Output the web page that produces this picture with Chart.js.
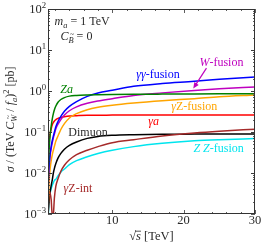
<!DOCTYPE html>
<html>
<head>
<meta charset="utf-8">
<script src="https://cdn.jsdelivr.net/npm/chart.js@4/dist/chart.umd.min.js"></script>
<style>
  html, body { margin: 0; padding: 0; background: #fff; }
  canvas { display: block; }
</style>
</head>
<body>
<canvas id="grafico" width="266" height="247"></canvas>
<script>
// sqrt(s) in TeV, shared by all curves
const sqrtS = [1.0, 1.05, 1.1, 1.2, 1.3, 1.45, 1.6, 1.75, 1.9, 2.1, 2.4, 2.8, 3.3, 4, 5, 6.5, 8, 10, 13, 17, 21.5, 25, 30];

// cross sections [pb]
const gammaGammaFusion = [0.004, 0.008, 0.012, 0.02, 0.03, 0.045, 0.062, 0.08, 0.1, 0.135, 0.18, 0.24, 0.32, 0.42, 0.55, 0.74, 0.89, 1.04, 1.3, 1.52, 1.72, 1.93, 2.2];
const wFusion = [0.002, 0.005, 0.009, 0.018, 0.027, 0.04, 0.055, 0.072, 0.09, 0.12, 0.155, 0.2, 0.26, 0.33, 0.41, 0.5, 0.57, 0.65, 0.78, 0.9, 1.03, 1.13, 1.25];
const zA = [0.0008, 0.012, 0.025, 0.05, 0.085, 0.14, 0.21, 0.28, 0.35, 0.43, 0.53, 0.62, 0.69, 0.75, 0.78, 0.8, 0.81, 0.82, 0.83, 0.84, 0.85, 0.855, 0.86];
const gammaZFusion = [0.0008, 0.002, 0.004, 0.008, 0.013, 0.02, 0.028, 0.036, 0.045, 0.06, 0.08, 0.115, 0.16, 0.22, 0.28, 0.35, 0.4, 0.45, 0.51, 0.58, 0.65, 0.72, 0.8];
const gammaA = [0.002, 0.03, 0.05, 0.07, 0.09, 0.12, 0.15, 0.17, 0.185, 0.2, 0.215, 0.225, 0.235, 0.245, 0.25, 0.255, 0.255, 0.258, 0.26, 0.26, 0.26, 0.26, 0.26];
const dimuon = [0.0009, 0.0012, 0.0016, 0.0025, 0.0035, 0.005, 0.0068, 0.01, 0.013, 0.017, 0.023, 0.03, 0.038, 0.047, 0.057, 0.07, 0.078, 0.083, 0.086, 0.088, 0.089, 0.09, 0.09];
const gammaZInt = [0.0006, 0.0015, 0.0025, 0.0035, 0.0032, 0.0022, 0.0009, 0.001, 0.0025, 0.0048, 0.0072, 0.011, 0.0155, 0.021, 0.028, 0.036, 0.044, 0.055, 0.065, 0.08, 0.095, 0.105, 0.117];
const zzFusion = [0.0004, 0.001, 0.0017, 0.0026, 0.0033, 0.0042, 0.005, 0.0058, 0.0066, 0.007, 0.0085, 0.0105, 0.0125, 0.016, 0.02, 0.025, 0.03, 0.036, 0.044, 0.053, 0.061, 0.065, 0.069];

const xTicks = [10, 20, 30];
const yTicks = [1e-3, 1e-2, 1e-1, 1, 10, 100];
const yTickExp = ["\u22123", "\u22122", "\u22121", "0", "1", "2"];

const FONT = '"Liberation Serif", "DejaVu Serif", serif';
const TXT = "#2a2a2a";

const series = [
  { data: zA, color: "#008000" },
  { data: gammaGammaFusion, color: "#0000ff" },
  { data: wFusion, color: "#bf00bf" },
  { data: gammaZFusion, color: "#ffa500" },
  { data: gammaA, color: "#ff0000" },
  { data: gammaZInt, color: "#a52a2a" },
  { data: dimuon, color: "#000000" },
  { data: zzFusion, color: "#00e5ee" },
];

// curve labels, placed in data coordinates
const etiquetas = [
  { x: 3.6, y: 1.07, color: "#008000", parts: [{ t: "Z", it: 1 }, { t: "a", it: 1 }] },
  { x: 16.4, y: 2.5, color: "#0000ff", parts: [{ t: "\u03b3\u03b3", it: 1 }, { t: "-fusion" }] },
  { x: 25.3, y: 4.9, color: "#bf00bf", parts: [{ t: "W", it: 1 }, { t: "-fusion" }] },
  { x: 21.5, y: 0.41, color: "#ffa500", parts: [{ t: "\u03b3", it: 1 }, { t: "Z-fusion" }] },
  { x: 15.8, y: 0.175, color: "#ff0000", parts: [{ t: "\u03b3a", it: 1 }] },
  { x: 6.6, y: 0.094, color: "#2a2a2a", parts: [{ t: "Dimuon" }] },
  { x: 24.9, y: 0.038, color: "#00e5ee", parts: [{ t: "Z Z", it: 1 }, { t: "-fusion" }] },
  { x: 5.2, y: 0.0041, color: "#a52a2a", parts: [{ t: "\u03b3", it: 1 }, { t: "Z-int" }] },
];

function richText(ctx, parts, x, y, size, color, align) {
  const items = parts.map(p => {
    const fs = (p.sub || p.sup) ? size * 0.7 : size;
    const font = (p.it ? "italic " : "") + fs + "px " + FONT;
    ctx.font = font;
    return { ...p, fs, font, w: ctx.measureText(p.t).width };
  });
  const total = items.reduce((s, it) => s + it.w, 0);
  let cx = align === "center" ? x - total / 2 : align === "right" ? x - total : x;
  ctx.fillStyle = color;
  ctx.textBaseline = "middle";
  ctx.textAlign = "left";
  for (const it of items) {
    const dy = it.sub ? size * 0.3 : it.sup ? -size * 0.38 : 0;
    ctx.font = it.font;
    ctx.fillText(it.t, cx, y + dy);
    if (it.tilde) {
      ctx.font = (it.fs * 0.9) + "px " + FONT;
      ctx.fillText("~", cx + it.w / 2 - ctx.measureText("~").width / 2 + 1, y + dy - it.fs * 0.62);
    }
    if (it.bar) {
      ctx.fillRect(cx - 1, y + dy - it.fs * 0.5, it.w + 1, 0.8);
    }
    cx += it.w;
  }
}

const decoraciones = {
  id: "decoraciones",
  afterDatasetsDraw(chart) {
    const { ctx, chartArea: a } = chart;
    const xs = chart.scales.x, ys = chart.scales.y;
    ctx.save();

    // frame
    ctx.strokeStyle = "#333";
    ctx.lineWidth = 1;
    ctx.strokeRect(a.left + 0.5, a.top + 0.5, a.right - a.left - 1, a.bottom - a.top - 1);

    // inward ticks on all four sides
    ctx.lineWidth = 0.8;
    ctx.beginPath();
    for (let v = 2; v <= 30; v += 2) {
      const len = v % 10 === 0 ? 4 : 2;
      const px = Math.round(xs.getPixelForValue(v)) + 0.5;
      ctx.moveTo(px, a.bottom); ctx.lineTo(px, a.bottom - len);
      ctx.moveTo(px, a.top); ctx.lineTo(px, a.top + len);
    }
    for (let e = -3; e <= 1; e++) {
      for (let k = 1; k <= 10; k++) {
        const v = k * Math.pow(10, e);
        const len = (k === 1 || k === 10) ? 4 : 2;
        const py = Math.round(ys.getPixelForValue(v)) + 0.5;
        ctx.moveTo(a.left, py); ctx.lineTo(a.left + len, py);
        ctx.moveTo(a.right, py); ctx.lineTo(a.right - len, py);
      }
    }
    ctx.stroke();

    // y tick labels 10^n
    yTicks.forEach((v, i) => {
      const py = ys.getPixelForValue(v);
      richText(ctx, [{ t: "10" }, { t: yTickExp[i], sup: 1 }], a.left - 2, py + 1, 12.5, TXT, "right");
    });

    // x tick labels
    xTicks.forEach(v => {
      richText(ctx, [{ t: String(v) }], xs.getPixelForValue(v), a.bottom + 7, 12.5, TXT, "center");
    });

    // y axis title
    ctx.save();
    ctx.translate(11, (a.top + a.bottom) / 2 + 8);
    ctx.rotate(-Math.PI / 2);
    richText(ctx, [
      { t: "\u03c3", it: 1 }, { t: " / (TeV " }, { t: "C", it: 1 }, { t: "W", it: 1, sub: 1, tilde: 1 },
      { t: " / " }, { t: "f", it: 1 }, { t: "a", it: 1, sub: 1 }, { t: ")" }, { t: "2", sup: 1 }, { t: " [pb]" }
    ], 0, 0, 12, TXT, "center");
    ctx.restore();

    // x axis title
    richText(ctx, [{ t: "\u221a" }, { t: "s", it: 1, bar: 1 }, { t: " [TeV]" }],
      (a.left + a.right) / 2, a.bottom + 23, 12.5, TXT, "center");

    // parameter box text
    richText(ctx, [{ t: "m", it: 1 }, { t: "a", it: 1, sub: 1 }, { t: " = 1 TeV" }],
      xs.getPixelForValue(1.92), ys.getPixelForValue(48), 12, TXT, "left");
    richText(ctx, [{ t: "C", it: 1 }, { t: "B", it: 1, sub: 1, tilde: 1 }, { t: " = 0" }],
      xs.getPixelForValue(2.75), ys.getPixelForValue(21), 12, TXT, "left");

    // curve labels
    etiquetas.forEach(l => {
      richText(ctx, l.parts, xs.getPixelForValue(l.x), ys.getPixelForValue(l.y), 12, l.color, "center");
    });

    // arrow to the W-fusion curve
    const x0 = xs.getPixelForValue(23.2), y0 = ys.getPixelForValue(3.6);
    const x1 = xs.getPixelForValue(21.35), y1 = ys.getPixelForValue(1.15);
    const ang = Math.atan2(y1 - y0, x1 - x0);
    ctx.strokeStyle = "#bf00bf";
    ctx.fillStyle = "#bf00bf";
    ctx.lineWidth = 1.2;
    ctx.beginPath();
    ctx.moveTo(x0, y0);
    ctx.lineTo(x1 - 4 * Math.cos(ang), y1 - 4 * Math.sin(ang));
    ctx.stroke();
    ctx.beginPath();
    ctx.moveTo(x1, y1);
    ctx.lineTo(x1 - 6 * Math.cos(ang) + 2.6 * Math.sin(ang), y1 - 6 * Math.sin(ang) - 2.6 * Math.cos(ang));
    ctx.lineTo(x1 - 6 * Math.cos(ang) - 2.6 * Math.sin(ang), y1 - 6 * Math.sin(ang) + 2.6 * Math.cos(ang));
    ctx.closePath();
    ctx.fill();

    ctx.restore();
  }
};

new Chart(document.getElementById("grafico"), {
  type: "line",
  data: {
    datasets: series.map(s => ({
      data: sqrtS.map((x, i) => ({ x, y: s.data[i] })),
      borderColor: s.color,
      borderWidth: 1.5,
      pointRadius: 0,
      fill: false,
      cubicInterpolationMode: "monotone",
    }))
  },
  options: {
    responsive: false,
    animation: false,
    devicePixelRatio: 1,
    layout: { padding: { top: 9, right: 11, left: 0, bottom: 0 } },
    plugins: { legend: { display: false }, tooltip: { enabled: false } },
    scales: {
      x: {
        type: "linear",
        min: 1,
        max: 30,
        grid: { display: false, drawTicks: false },
        border: { display: false },
        ticks: { display: false },
        afterFit: s => { s.height = 33; }
      },
      y: {
        type: "logarithmic",
        min: 1e-3,
        max: 100,
        grid: { display: false, drawTicks: false },
        border: { display: false },
        ticks: { display: false },
        afterFit: s => { s.width = 48; }
      }
    }
  },
  plugins: [decoraciones]
});
</script>
</body>
</html>
